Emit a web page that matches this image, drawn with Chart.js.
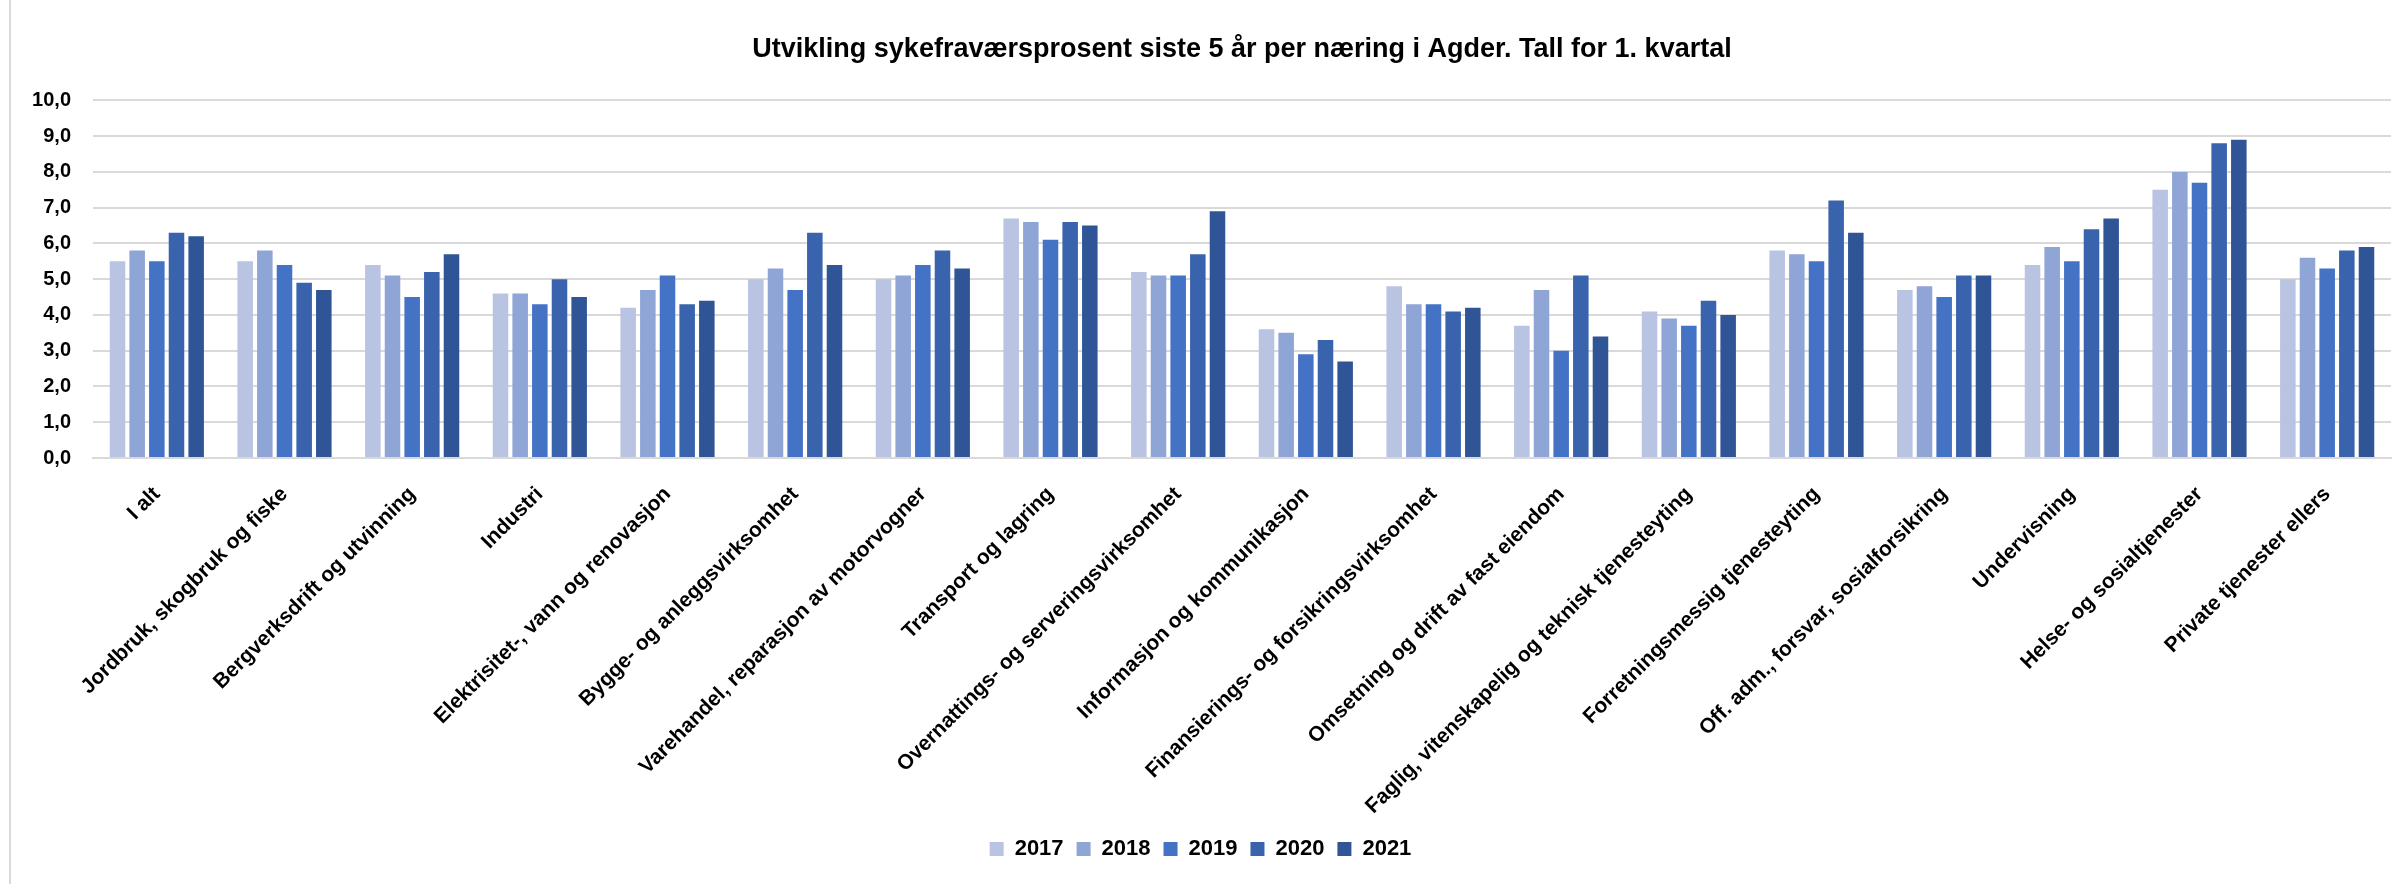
<!DOCTYPE html>
<html>
<head>
<meta charset="utf-8">
<script src="https://cdn.jsdelivr.net/npm/chart.js@4/dist/chart.umd.min.js"></script>
<style>
  html, body { margin: 0; padding: 0; background: #ffffff; }
  #wrap { position: relative; width: 2402px; height: 884px; }
  canvas { display: block; }
</style>
</head>
<body>
<div id="wrap"><canvas id="c" width="2402" height="884"></canvas></div>
<script>
const categories = [
  "I alt",
  "Jordbruk, skogbruk og fiske",
  "Bergverksdrift og utvinning",
  "Industri",
  "Elektrisitet-, vann og renovasjon",
  "Bygge- og anleggsvirksomhet",
  "Varehandel, reparasjon av motorvogner",
  "Transport og lagring",
  "Overnattings- og serveringsvirksomhet",
  "Informasjon og kommunikasjon",
  "Finansierings- og forsikringsvirksomhet",
  "Omsetning og drift av fast eiendom",
  "Faglig, vitenskapelig og teknisk tjenesteyting",
  "Forretningsmessig tjenesteyting",
  "Off. adm., forsvar, sosialforsikring",
  "Undervisning",
  "Helse- og sosialtjenester",
  "Private tjenester ellers"
];
const years = ["2017", "2018", "2019", "2020", "2021"];
const v2017 = [5.5, 5.5, 5.4, 4.6, 4.2, 5.0, 5.0, 6.7, 5.2, 3.6, 4.8, 3.7, 4.1, 5.8, 4.7, 5.4, 7.5, 5.0];
const v2018 = [5.8, 5.8, 5.1, 4.6, 4.7, 5.3, 5.1, 6.6, 5.1, 3.5, 4.3, 4.7, 3.9, 5.7, 4.8, 5.9, 8.0, 5.6];
const v2019 = [5.5, 5.4, 4.5, 4.3, 5.1, 4.7, 5.4, 6.1, 5.1, 2.9, 4.3, 3.0, 3.7, 5.5, 4.5, 5.5, 7.7, 5.3];
const v2020 = [6.3, 4.9, 5.2, 5.0, 4.3, 6.3, 5.8, 6.6, 5.7, 3.3, 4.1, 5.1, 4.4, 7.2, 5.1, 6.4, 8.8, 5.8];
const v2021 = [6.2, 4.7, 5.7, 4.5, 4.4, 5.4, 5.3, 6.5, 6.9, 2.7, 4.2, 3.4, 4.0, 6.3, 5.1, 6.7, 8.9, 5.9];
const yMin = 0, yMax = 10, yStep = 1;
const titleText = "Utvikling sykefraværsprosent siste 5 år per næring i Agder. Tall for 1. kvartal";

const seriesValues = [v2017, v2018, v2019, v2020, v2021];
const colors = ["#B9C3E2", "#8FA5D5", "#4472C4", "#3A63AD", "#2F5597"];
const FONT = "'Liberation Sans', Arial, sans-serif";

const leftBorder = {
  id: 'leftBorder',
  beforeDraw(chart) {
    const ctx = chart.ctx;
    ctx.save();
    ctx.fillStyle = '#ffffff';
    ctx.fillRect(0, 0, chart.width, chart.height);
    ctx.fillStyle = '#d9d9d9';
    ctx.fillRect(9, 0, 2, chart.height);
    ctx.restore();
  }
};

new Chart(document.getElementById('c'), {
  type: 'bar',
  data: {
    labels: categories,
    datasets: years.map((y, i) => ({
      label: y,
      data: seriesValues[i],
      backgroundColor: colors[i],
      borderWidth: 0,
      barPercentage: 0.79,
      categoryPercentage: 0.77
    }))
  },
  options: {
    responsive: false,
    animation: false,
    layout: { padding: { left: 10, right: 11, top: 0, bottom: 14 } },
    plugins: {
      title: {
        display: true,
        fullSize: false,
        text: titleText,
        color: '#000000',
        font: { family: FONT, size: 27, weight: 'bold', lineHeight: 1.2 },
        padding: { top: 33, bottom: 35 }
      },
      legend: {
        position: 'bottom',
        labels: {
          color: '#000000',
          font: { family: FONT, size: 22, weight: 'bold' },
          boxWidth: 14,
          boxHeight: 14,
          padding: 13
        }
      },
      tooltip: { enabled: false }
    },
    scales: {
      x: {
        grid: { display: false, drawTicks: false },
        border: { display: true, color: '#d9d9d9', width: 2 },
        ticks: {
          color: '#000000',
          font: { family: FONT, size: 21, weight: 'bold' },
          minRotation: 45,
          maxRotation: 45,
          autoSkip: false,
          padding: 24
        },
        afterFit(scale) { scale.height = 367; }
      },
      y: {
        min: yMin,
        max: yMax,
        grid: { color: '#d9d9d9', lineWidth: 2, drawTicks: false },
        border: { display: false },
        ticks: {
          stepSize: yStep,
          color: '#000000',
          padding: 22,
          font: { family: FONT, size: 20, weight: 'bold' },
          callback: (v) => v.toFixed(1).replace('.', ',')
        },
        afterFit(scale) { scale.width = 83; }
      }
    }
  },
  plugins: [leftBorder]
});
</script>
</body>
</html>
